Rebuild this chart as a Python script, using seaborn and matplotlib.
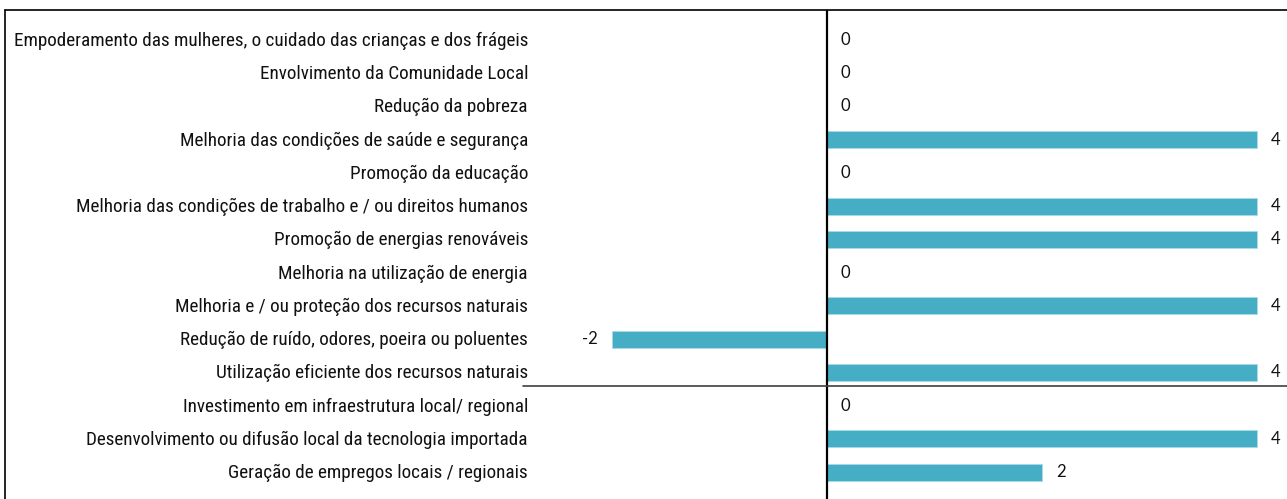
import matplotlib
matplotlib.use("Agg")
import matplotlib.pyplot as plt
from matplotlib import font_manager
from matplotlib.lines import Line2D
import pandas as pd
import seaborn as sns

# data, top to bottom as shown
categories = [
    "Empoderamento das mulheres, o cuidado das crianças e dos frágeis",
    "Envolvimento da Comunidade Local",
    "Redução da pobreza",
    "Melhoria das condições de saúde e segurança",
    "Promoção da educação",
    "Melhoria das condições de trabalho e / ou direitos humanos",
    "Promoção de energias renováveis",
    "Melhoria na utilização de energia",
    "Melhoria e / ou proteção dos recursos naturais",
    "Redução de ruído, odores, poeira ou poluentes",
    "Utilização eficiente dos recursos naturais",
    "Investimento em infraestrutura local/ regional",
    "Desenvolvimento ou difusão local da tecnologia importada",
    "Geração de empregos locais / regionais",
]
values = [0, 0, 0, 4, 0, 4, 4, 0, 4, -2, 4, 0, 4, 2]

df = pd.DataFrame({"categoria": categories, "valor": values})

sns.set_style("white")


# narrow font for the category labels if one is there, else Roboto a bit smaller
def pick_label_font():
    for name, size in [("Liberation Sans Narrow", 13), ("DejaVu Sans Condensed", 12.7),
                       ("Roboto Condensed", 13.75), ("Roboto", 11.5)]:
        try:
            font_manager.findfont(name, fallback_to_default=False)
            return name, size
        except ValueError:
            pass
    return "DejaVu Sans", 10.5


label_font, label_size = pick_label_font()

W, H = 1287, 499
fig = plt.figure(figsize=(W / 100, H / 100), dpi=100)
ax = fig.add_axes([0, 0, 1, 1 - 10 / H])

px_per_unit = 107.5
zero_px = 827

sns.barplot(data=df, y="categoria", x="valor", orient="h",
            color="#45ADC4", width=0.51, saturation=1, ax=ax,
            edgecolor="#A9DCE8", linewidth=0.6)

ax.set_xlim(-zero_px / px_per_unit, (W - zero_px) / px_per_unit)
ax.set_ylim(13.81, -0.90)

for s in ax.spines.values():
    s.set_visible(False)
ax.set_xticks([])
ax.set_yticks([])
ax.set_xlabel("")
ax.set_ylabel("")

# zero axis and the horizontal rule
ax.axvline(0, color="black", lw=1.6)
ax.axhline(10.41, xmin=523 / W, xmax=1, color="#404040", lw=1.2)

# category labels
label_x = 528 / W
for i, cat in enumerate(categories):
    ax.text(label_x, i + 0.03, cat, ha="right", va="center", fontsize=label_size,
            family=[label_font, "DejaVu Sans"],
            color="#111111", transform=ax.get_yaxis_transform())

# value labels
ax.bar_label(ax.containers[0], labels=[f"{v:g}" for v in values],
             padding=10, fontsize=12, family=["Lato", "DejaVu Sans"],
             color="#111111")

# chart border (top and left visible)
fig.add_artist(Line2D([5 / W, 1], [1 - 10 / H, 1 - 10 / H],
                      transform=fig.transFigure, color="black", lw=1.2))
fig.add_artist(Line2D([5 / W, 5 / W], [0, 1 - 10 / H],
                      transform=fig.transFigure, color="black", lw=1.2))

fig.savefig("out.png", dpi=100)
